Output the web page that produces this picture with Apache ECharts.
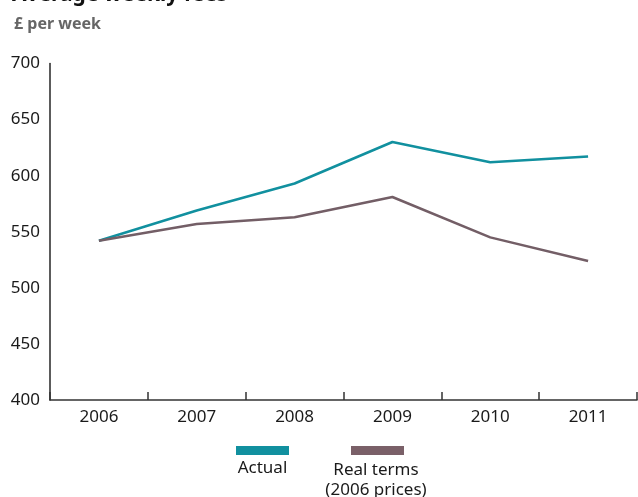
<!DOCTYPE html>
<html>
<head>
<meta charset="utf-8">
<script src="https://cdn.jsdelivr.net/npm/echarts@6/dist/echarts.min.js"></script>
<style>
  html, body { margin: 0; padding: 0; background: #fff; }
  #chart { width: 638px; height: 497px; }
</style>
</head>
<body>
<div id="chart"></div>
<script>
// Average weekly fees, 2006–2011
const years = ['2006', '2007', '2008', '2009', '2010', '2011'];
const actualFees = [542, 569, 593, 630, 612, 617];
const realTermsFees = [542, 557, 563, 581, 545, 524];
const yTicks = [400, 450, 500, 550, 600, 650, 700];

const FONT = '"Noto Sans", "Open Sans", sans-serif';
const TEAL = '#11909f';
const MAUVE = '#735e66';

const chart = echarts.init(document.getElementById('chart'), null, { renderer: 'canvas' });

chart.setOption({
  animation: false,
  backgroundColor: '#ffffff',
  title: [
    {
      text: 'Average weekly fees',
      left: 7, top: -20,
      textStyle: { fontFamily: FONT, fontSize: 21, fontWeight: 'bold', color: '#111' }
    },
    {
      text: '£ per week',
      left: 9, top: 11,
      textStyle: { fontFamily: FONT, fontSize: 16, fontWeight: 'bold', color: '#666' }
    }
  ],
  grid: { left: 50, right: 1, top: 63.5, bottom: 97, containLabel: false },
  xAxis: {
    type: 'category',
    data: years,
    boundaryGap: true,
    axisLine: { lineStyle: { color: '#333', width: 1.6 } },
    axisTick: { show: true, inside: true, length: 8, lineStyle: { color: '#333', width: 1.5 } },
    axisLabel: { fontFamily: FONT, fontSize: 17, color: '#1a1a1a', margin: 9 }
  },
  yAxis: {
    type: 'value',
    min: yTicks[0],
    max: yTicks[yTicks.length - 1],
    interval: 50,
    axisLine: { show: true, lineStyle: { color: '#333', width: 1.6 } },
    axisTick: { show: false },
    splitLine: { show: false },
    axisLabel: { fontFamily: FONT, fontSize: 17, color: '#1a1a1a', margin: 10 }
  },
  series: [
    {
      name: 'Actual',
      type: 'line',
      data: actualFees,
      symbol: 'none',
      lineStyle: { color: TEAL, width: 2.5 },
      itemStyle: { color: TEAL }
    },
    {
      name: 'Real terms (2006 prices)',
      type: 'line',
      data: realTermsFees,
      symbol: 'none',
      lineStyle: { color: MAUVE, width: 2.5 },
      itemStyle: { color: MAUVE }
    }
  ],
  graphic: [
    { type: 'rect', shape: { x: 236, y: 446, width: 53, height: 9 }, style: { fill: TEAL } },
    { type: 'text', x: 262.5, y: 460, style: { text: 'Actual', fontFamily: FONT, fontSize: 17, fill: '#1a1a1a', align: 'center', verticalAlign: 'top' } },
    { type: 'rect', shape: { x: 351, y: 446, width: 53, height: 9 }, style: { fill: '#7a6068' } },
    { type: 'text', x: 376, y: 460, style: { text: 'Real terms\n(2006 prices)', fontFamily: FONT, fontSize: 17, lineHeight: 20, fill: '#1a1a1a', align: 'center', verticalAlign: 'top' } }
  ]
});
</script>
</body>
</html>
